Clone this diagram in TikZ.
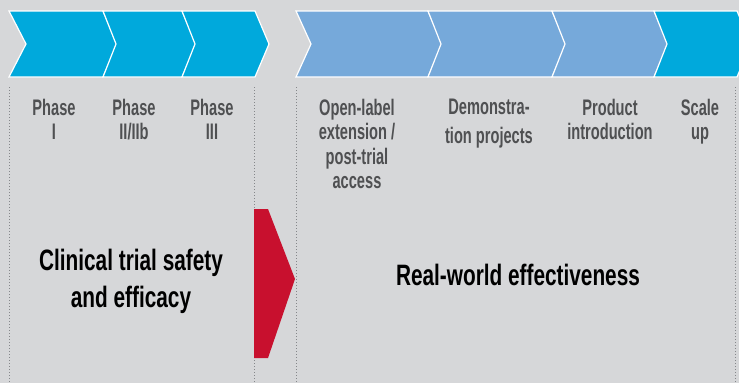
\documentclass[tikz,border=0pt]{standalone}
\usepackage{fontspec}
\newfontfamily\condfont{Liberation Sans}[FakeStretch=0.65]
\newfontfamily\bigcondfont{Liberation Sans}[FakeStretch=0.705]
\definecolor{bggray}{HTML}{D6D7D9}
\definecolor{phasecyan}{HTML}{00A9DC}
\definecolor{realblue}{HTML}{76A9DA}
\definecolor{labelgray}{HTML}{4F5052}
\definecolor{dotgray}{HTML}{85878A}
\definecolor{arrowred}{HTML}{C8102E}

\begin{document}
\begin{tikzpicture}[x=1pt,y=-1pt,
  phaselabel/.style={text=labelgray,font=\condfont\bfseries\fontsize{22.5}{24.3}\selectfont,
    align=center,anchor=north,inner sep=0pt},
  bigtext/.style={text=black,font=\bigcondfont\bfseries\fontsize{29.5}{37}\selectfont,
    align=center,anchor=north,inner sep=0pt},
  divider/.style={dotgray,line width=0.9pt,dash pattern=on 0.9pt off 2.1pt},
  chevron/.style={draw=white,line width=1.2pt,line join=miter}]
\useasboundingbox (0,0) rectangle (739,383);
\fill[bggray] (0,0) rectangle (739,383);

% chevrons: left end / right end / notch depth / colour
\foreach \xl/\xr/\nd/\col in {9/103/17/phasecyan,103/182/13/phasecyan,182/255/13/phasecyan,
    296/428/15/realblue,428/552/13/realblue,552/654/13/realblue,654/737/13/phasecyan}
  \draw[chevron,fill=\col] (\xl,11) -- (\xr,11) -- (\xr+14,44) -- (\xr,77)
    -- (\xl,77) -- (\xl+\nd,44) -- cycle;

% dotted dividers
\coordinate (d1) at (9,87);
\coordinate (d2) at (254,87);
\coordinate (d3) at (296,87);
\coordinate (d4) at (735,87);
\draw[divider] (d1) -- (9,383);
\draw[divider] (d2) -- (254,383);
\draw[divider] (d3) -- (296,383);
\draw[divider] (d4) -- (735,383);

% red arrow between the two halves
\fill[arrowred] (254,209) -- (268,209) -- (295,279) -- (268,358) -- (254,358) -- cycle;

\node[phaselabel] (phase1) at (54,99) {Phase\\I};
\node[phaselabel] (phase2) at (134,99) {Phase\\II/IIb};
\node[phaselabel] (phase3) at (212,99) {Phase\\III};
\node[phaselabel] (openlabel) at (357,99) {Open-label\\extension /\\post-trial\\access};
\node[phaselabel] (demo) at (489,99) {Demonstra-\\[4.5pt]tion projects};
\node[phaselabel] (product) at (610,99) {Product\\introduction};
\node[phaselabel] (scaleup) at (700,99) {Scale\\up};

\node[bigtext] (clinical) at (131,249) {Clinical trial safety\\and efficacy};
\node[bigtext] (realworld) at (518,264) {Real-world effectiveness};
\end{tikzpicture}
\end{document}
